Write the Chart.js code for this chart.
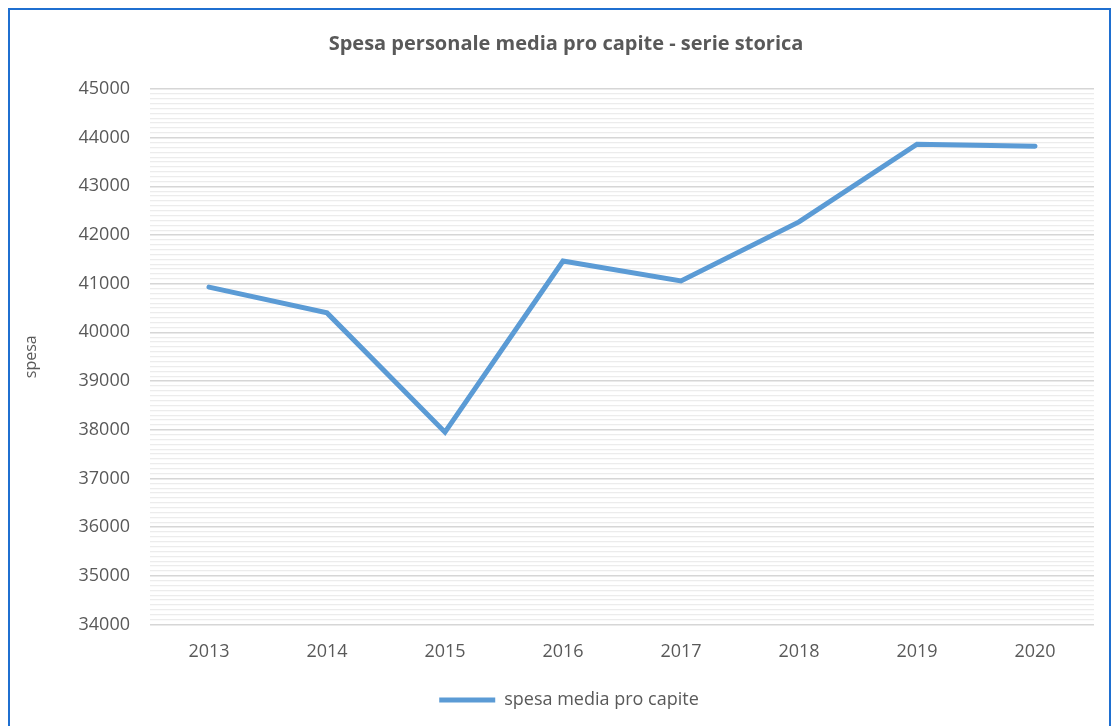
<!DOCTYPE html>
<html>
<head>
<meta charset="utf-8">
<script src="https://cdn.jsdelivr.net/npm/chart.js@4.4.1/dist/chart.umd.min.js"></script>
<style>
  html, body { margin: 0; padding: 0; background: #ffffff; overflow: hidden; }
  #frame { position: absolute; left: 8px; top: 8px; width: 1103px; height: 740px; border: 2px solid #1f6fd0; box-sizing: border-box; }
  #wrap { position: absolute; left: 0; top: 0; width: 1117px; height: 726px; }
</style>
</head>
<body>
<div id="frame"></div>
<div id="wrap"><canvas id="c" width="1117" height="726"></canvas></div>
<script>
const categories = ["2013", "2014", "2015", "2016", "2017", "2018", "2019", "2020"];
const spesaMedia = [40930, 40400, 37950, 41465, 41055, 42270, 43865, 43825];
const seriesName = "spesa media pro capite";
const chartTitle = "Spesa personale media pro capite - serie storica";
const yAxisTitle = "spesa";
const yMin = 34000, yMax = 45000, yMajorStep = 1000, yMinorStep = 100;

const textColor = "#595959";
const fontFamily = "'Open Sans', 'Noto Sans', sans-serif";

// nudges the title and legend boxes horizontally to match the reference centring
const boxShift = {
  id: "boxShift",
  afterLayout(chart) {
    const t = chart.titleBlock;
    if (t) { t.left += 10; t.right += 10; }
    const l = chart.legend;
    if (l) { l.left += 13; l.right += 13; }
  }
};

new Chart(document.getElementById("c"), {
  type: "line",
  data: {
    labels: categories,
    datasets: [{
      label: seriesName,
      data: spesaMedia,
      borderColor: "#5b9bd5",
      backgroundColor: "#5b9bd5",
      borderWidth: 5,
      borderCapStyle: "round",
      borderJoinStyle: "miter",
      pointRadius: 0,
      pointHoverRadius: 0,
      tension: 0,
      fill: false
    }]
  },
  plugins: [boxShift],
  options: {
    responsive: false,
    animation: false,
    events: [],
    layout: { padding: { left: 18, right: 23, top: 0, bottom: 7 } },
    plugins: {
      tooltip: { enabled: false },
      title: {
        display: true,
        text: chartTitle,
        color: textColor,
        font: { family: fontFamily, size: 20, weight: "bold" },
        padding: { top: 32, bottom: 33 }
      },
      legend: {
        display: true,
        position: "bottom",
        labels: {
          usePointStyle: true,
          pointStyle: "line",
          pointStyleWidth: 56,
          color: textColor,
          font: { family: fontFamily, size: 18 },
          padding: 19
        }
      }
    },
    scales: {
      x: {
        offset: true,
        grid: { display: false },
        border: { display: false },
        ticks: {
          color: textColor,
          font: { family: fontFamily, size: 18 },
          padding: 9,
          maxRotation: 0
        }
      },
      y: {
        min: yMin,
        max: yMax,
        afterFit: (scale) => { scale.width = 132; },
        border: { display: false },
        grid: {
          drawTicks: false,
          color: (ctx) => (ctx.tick && ctx.tick.value % yMajorStep === 0) ? "#d6d6d6" : "#ececec",
          lineWidth: (ctx) => (ctx.tick && ctx.tick.value % yMajorStep === 0) ? 1.6 : 1.2
        },
        ticks: {
          stepSize: yMinorStep,
          autoSkip: false,
          color: textColor,
          font: { family: fontFamily, size: 18 },
          padding: 20,
          callback: (v) => (v % yMajorStep === 0) ? String(v) : ""
        },
        title: {
          display: true,
          text: yAxisTitle,
          color: textColor,
          font: { family: fontFamily, size: 16 },
          padding: { top: 4, bottom: 0 }
        }
      }
    }
  }
});
</script>
</body>
</html>
